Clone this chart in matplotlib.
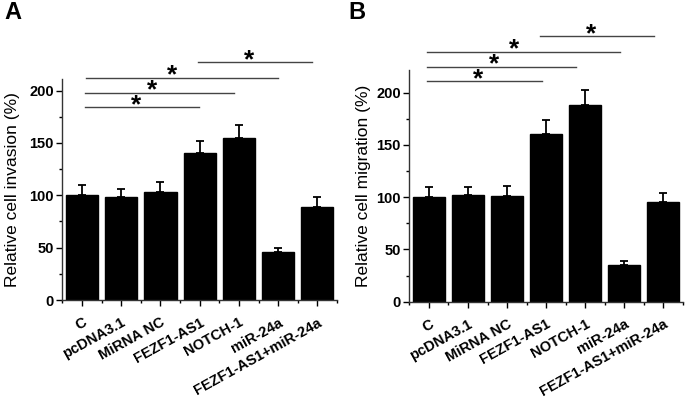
import matplotlib
matplotlib.use("Agg")
import matplotlib.pyplot as plt
from matplotlib import font_manager as fm
from matplotlib.ticker import MultipleLocator, FixedLocator
import os

def find_font(fname_part, fallback_weight):
    for f in fm.fontManager.ttflist:
        if os.path.basename(f.fname) == fname_part:
            return fm.FontProperties(fname=f.fname)
    return fm.FontProperties(family='DejaVu Sans', weight=fallback_weight)

BOLD = find_font('LiberationSans-Bold.ttf', 'bold')
REG = find_font('LiberationSans-Regular.ttf', 'normal')

categories = ["C", "pcDNA3.1", "MiRNA NC", "FEZF1-AS1", "NOTCH-1", "miR-24a", "FEZF1-AS1+miR-24a"]

invasion = [100, 98, 103, 140, 155, 46, 89]
invasion_err = [10, 8, 10, 12, 12, 4, 9]

migration = [100, 102, 101, 160, 188, 35, 95]
migration_err = [10, 8, 10, 14, 15, 4, 9]

# significance brackets: (x_start, x_end, y)
sig_A = [(0.08, 2.98, 184), (0.08, 3.88, 198), (0.1, 5.0, 212), (2.96, 5.87, 227)]
sig_B = [(-0.05, 2.88, 211), (-0.05, 3.77, 225), (-0.05, 4.9, 239), (2.83, 5.77, 254)]

fig = plt.figure(figsize=(6.85, 3.99), dpi=100)

def fp(base, size):
    p = base.copy()
    p.set_size(size)
    return p

def panel(rect, vals, errs, ylabel, ytop, sig, letter, letter_xy, lpad):
    ax = fig.add_axes(rect)
    x = list(range(len(categories)))
    ax.bar(x, vals, width=0.82, color='black', edgecolor='black')
    ax.errorbar(x, vals, yerr=[[0]*len(errs), errs], fmt='none', ecolor='black',
                elinewidth=1.3, capsize=3, capthick=1.3)
    ax.set_xlim(-0.51, 6.5)
    ax.set_ylim(0, ytop)
    for s in ['top', 'right']:
        ax.spines[s].set_visible(False)
    for s in ['left', 'bottom']:
        ax.spines[s].set_linewidth(1.0)
        ax.spines[s].set_color('#333333')
    ax.yaxis.set_major_locator(FixedLocator([0, 50, 100, 150, 200]))
    ax.yaxis.set_minor_locator(MultipleLocator(25))
    ax.set_xticks(x)
    ax.set_xticks([i + 0.5 for i in range(-1, 7)], minor=True)
    ax.set_xticklabels(categories, rotation=29, ha='right', rotation_mode='anchor')
    ax.tick_params(axis='both', which='major', direction='out', length=4, width=1, pad=2)
    ax.tick_params(axis='x', which='major', pad=7)
    ax.tick_params(axis='both', which='minor', direction='out', length=2.5, width=1)
    for lab in ax.get_yticklabels() + ax.get_xticklabels():
        lab.set_fontproperties(fp(BOLD, 10.5))
    ax.set_ylabel(ylabel, fontproperties=fp(REG, 12.5), labelpad=lpad)
    for (x0, x1, y) in sig:
        ax.plot([x0, x1], [y, y], color='#444444', lw=1.0, clip_on=False)
        ax.annotate('*', xy=(x0 + (x1 - x0) * 0.45, y), xytext=(0, -7),
                    textcoords='offset points', ha='center', va='bottom',
                    fontproperties=fp(BOLD, 19), annotation_clip=False)
    fig.text(letter_xy[0], letter_xy[1], letter, fontproperties=fp(BOLD, 17),
             ha='left', va='top')
    return ax

panel([62/685, 1 - 300/399, 275/685, 221/399], invasion, invasion_err,
      'Relative cell invasion (%)', 211, sig_A, 'A', (0.006, 0.998), 6.5)
panel([409/685, 1 - 301.7/399, 274/685, 231.7/399], migration, migration_err,
      'Relative cell migration (%)', 221.7, sig_B, 'B', (0.508, 0.998), 3.5)

fig.savefig('out.png', dpi=100)
